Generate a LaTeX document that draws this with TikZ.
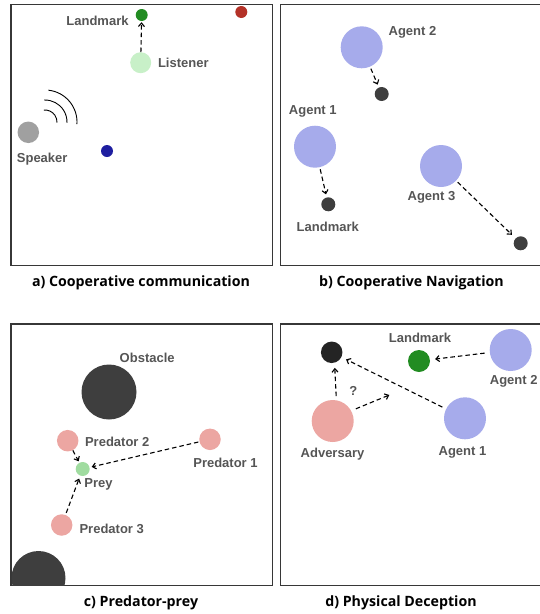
\documentclass[tikz,border=0pt]{standalone}
\usepackage{fontspec}
\setmainfont{Liberation Sans}
\newfontfamily\capfont{Open Sans}
\usetikzlibrary{arrows.meta}

\definecolor{frameC}{RGB}{55,55,55}
\definecolor{labelC}{RGB}{85,85,85}
\definecolor{lmGreen}{RGB}{34,140,34}
\definecolor{lightGreen}{RGB}{200,240,200}
\definecolor{preyGreen}{RGB}{160,220,160}
\definecolor{redDot}{RGB}{180,50,40}
\definecolor{blueDot}{RGB}{30,30,160}
\definecolor{speakerGray}{RGB}{160,160,160}
\definecolor{agentBlue}{RGB}{166,171,235}
\definecolor{darkDot}{RGB}{62,62,62}
\definecolor{predPink}{RGB}{236,166,162}

\tikzset{
  panel/.style={draw=frameC, line width=1.4pt},
  dot/.style={circle, inner sep=0pt, draw=none, fill=#1},
  lbl/.style={text=labelC, font=\bfseries\fontsize{13}{15}\selectfont, inner sep=0pt},
  captxt/.style={text=black, font=\capfont\bfseries\fontsize{14.2}{17}\selectfont, inner sep=0pt},
  move/.style={dash pattern=on 4.5pt off 3pt, line width=1.1pt,
               -{Straight Barb[length=3.5pt,width=6pt]}, shorten <=2pt, shorten >=3pt},
  wave/.style={line width=0.9pt, black}
}

\begin{document}
\begin{tikzpicture}[x=1pt, y=-1pt]
\useasboundingbox (0,0) rectangle (539,614);

% ---------- panel frames ----------
\draw[panel] (11,4.3) rectangle (272.7,265.5);
\draw[panel] (280.7,4.3) rectangle (560,265.5);
\draw[panel] (11,324) rectangle (272.7,585.7);
\draw[panel] (280.7,324) rectangle (560,585.7);

% ---------- a) Cooperative communication ----------
\node[dot=lmGreen, minimum size=12pt] (aLm) at (141.7,15) {};
\node[dot=lightGreen, minimum size=21pt] (aLis) at (140.7,62.7) {};
\node[dot=redDot, minimum size=12pt] (aRed) at (241.3,12) {};
\node[dot=blueDot, minimum size=12pt] (aBlue) at (107,151) {};
\node[dot=speakerGray, minimum size=21.5pt] (aSpk) at (28.3,132.3) {};
\node[lbl] (aLmT) at (97.5,20.7) {Landmark};
\node[lbl] (aLisT) at (183.3,62.7) {Listener};
\node[lbl] (aSpkT) at (42.2,159.3) {Speaker};
\draw[move, shorten <=0pt, shorten >=1pt] (aLis) -- (aLm);
% sound waves from the speaker (y axis points down, so "up" is -90)
\coordinate (aWave) at (45,122);
\draw[wave] ([shift={(-95:12)}]aWave) arc[start angle=-95, end angle=3, radius=12];
\draw[wave] ([shift={(-92:22)}]aWave) arc[start angle=-92, end angle=2, radius=22];
\draw[wave] ([shift={(-84:32)}]aWave) arc[start angle=-84, end angle=4, radius=32];

% ---------- b) Cooperative Navigation ----------
\node[dot=agentBlue, minimum size=42pt] (bA2) at (361.7,47.3) {};
\node[dot=agentBlue, minimum size=42pt] (bA1) at (315,146.7) {};
\node[dot=agentBlue, minimum size=42pt] (bA3) at (441,166) {};
\node[dot=darkDot, minimum size=14pt] (bL2) at (381.7,94) {};
\node[dot=darkDot, minimum size=14pt] (bL1) at (328.3,204.3) {};
\node[dot=darkDot, minimum size=14pt] (bL3) at (520.7,243.3) {};
\node[lbl] (bA2T) at (412.5,32.3) {Agent 2};
\node[lbl] (bA1T) at (312.8,111.7) {Agent 1};
\node[lbl] (bA3T) at (431.5,197.7) {Agent 3};
\node[lbl] (bL1T) at (327.8,226.7) {Landmark};
\draw[move] (bA2) -- (bL2);
\draw[move] (bA1) -- (bL1);
\draw[move, shorten >=5pt] (bA3) -- (bL3);

% ---------- c) Predator-prey ----------
\node[dot=darkDot, minimum size=55pt] (cObs) at (109,392) {};
\begin{scope}
  \clip (11,324) rectangle (272.7,585.7);
  \fill[darkDot] (38.5,578) circle[radius=27];
\end{scope}
\node[dot=predPink, minimum size=21.5pt] (cP2) at (67.7,440.7) {};
\node[dot=predPink, minimum size=21.5pt] (cP1) at (210,439.3) {};
\node[dot=predPink, minimum size=21.5pt] (cP3) at (61.7,525) {};
\node[dot=preyGreen, minimum size=14pt] (cPrey) at (82.7,469) {};
\node[lbl] (cObsT) at (147.2,357.7) {Obstacle};
\node[lbl] (cP2T) at (117.2,441.7) {Predator 2};
\node[lbl] (cP1T) at (225.5,463.3) {Predator 1};
\node[lbl] (cPreyT) at (98.5,484.3) {Prey};
\node[lbl] (cP3T) at (111.7,529) {Predator 3};
\draw[move, shorten <=0pt, shorten >=1.5pt] (cP2) -- (cPrey);
\draw[move, shorten <=1pt, shorten >=2pt] (cP1) -- (cPrey);
\draw[move, shorten <=2pt, shorten >=3pt] (cP3) -- (cPrey);

% ---------- d) Physical Deception ----------
\node[dot=black!86, minimum size=21.5pt] (dGoal) at (331.7,352.3) {};
\node[dot=lmGreen, minimum size=22pt] (dLm) at (419,361) {};
\node[dot=agentBlue, minimum size=42pt] (dA2) at (510.7,350) {};
\node[dot=agentBlue, minimum size=42pt] (dA1) at (465,418.3) {};
\node[dot=predPink, minimum size=42pt] (dAdv) at (332.7,421) {};
\coordinate (dGuess) at (389.3,395);
\node[lbl] (dLmT) at (420,338.3) {Landmark};
\node[lbl] (dA2T) at (513.7,381.7) {Agent 2};
\node[lbl] (dA1T) at (462.5,452.7) {Agent 1};
\node[lbl] (dAdvT) at (332.5,454) {Adversary};
\node[lbl] (dQ) at (353.3,390.7) {?};
\draw[move, shorten <=5pt, shorten >=5pt] (dA2) -- (dLm);
\draw[move, shorten <=4pt, shorten >=5pt] (dA1) -- (dGoal);
\draw[move, shorten <=4pt, shorten >=5pt] (dAdv.80) -- (dGoal.-75);
\draw[move, shorten <=5pt, shorten >=0pt] (dAdv.29) -- (dGuess);

% ---------- captions ----------
\node[captxt] (capA) at (141,283) {a) Cooperative communication};
\node[captxt] (capB) at (411.5,283) {b) Cooperative Navigation};
\node[captxt] (capC) at (141,603) {c) Predator-prey};
\node[captxt] (capD) at (401,603) {d) Physical Deception};
\end{tikzpicture}
\end{document}
